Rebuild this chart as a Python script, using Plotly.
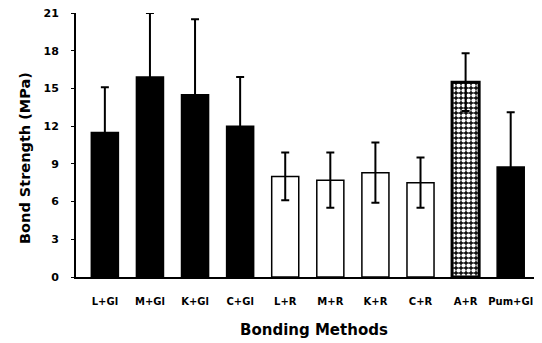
import plotly.graph_objects as go

categories = ["L+Gl", "M+Gl", "K+Gl", "C+Gl", "L+R", "M+R", "K+R", "C+R", "A+R", "Pum+Gl"]
means = [11.5, 15.9, 14.5, 12.0, 8.0, 7.7, 8.3, 7.5, 15.5, 8.75]
sds = [3.6, 5.1, 6.0, 3.9, 1.9, 2.2, 2.4, 2.0, 2.3, 4.35]
material = ["Gl", "Gl", "Gl", "Gl", "R", "R", "R", "R", "AR", "Gl"]
y_ticks = [0, 3, 6, 9, 12, 15, 18, 21]
x_title = "Bonding Methods"
y_title = "Bond Strength (MPa)"

fill = {"Gl": "black", "R": "white", "AR": "#111111"}
colors = [fill[m] for m in material]
shapes = ["." if m == "AR" else "" for m in material]
line_w = [3 if m == "AR" else 1.5 for m in material]

fig = go.Figure(go.Bar(
    x=categories, y=means, width=0.6,
    marker=dict(color=colors, line=dict(color="black", width=line_w),
                pattern=dict(shape=shapes, fgcolor="white", fgopacity=1,
                             size=5, solidity=0.55)),
    error_y=dict(type="data", array=sds, visible=True, color="black",
                 thickness=2, width=4),
))

# page body has an 8px default margin, so the figure is sized to fit the window
font_family = "DejaVu Sans"
fig.update_layout(
    width=534, height=335,
    margin=dict(l=68, r=2, t=5, b=66),
    paper_bgcolor="white", plot_bgcolor="white",
    showlegend=False,
    font=dict(family=font_family, color="black"),
    annotations=[
        dict(text="<b>%s</b>" % x_title, xref="paper", yref="paper",
             x=0.514, y=-0.2008, xanchor="center", yanchor="middle",
             showarrow=False, font=dict(size=15)),
        dict(text="<b>%s</b>" % y_title, xref="paper", yref="paper",
             x=-0.1099, y=0.451, xanchor="center", yanchor="middle",
             textangle=-90, showarrow=False, font=dict(size=14.5)),
    ],
)
fig.update_xaxes(
    automargin=False,
    range=[-0.64, 9.65], showline=True, linecolor="black", linewidth=2,
    ticks="", tickfont=dict(size=10, family=font_family, weight="bold"),
    ticklabelstandoff=14, showgrid=False,
)
fig.update_yaxes(
    automargin=False, ticklabeloverflow="allow",
    range=[0, 21], tickvals=y_ticks, showline=True, linecolor="black", linewidth=2,
    ticks="outside", ticklen=3, tickwidth=1, tickcolor="black",
    tickfont=dict(size=11, family=font_family, weight="bold"),
    ticklabelstandoff=10, showgrid=False, zeroline=False,
)
fig.write_html("out.html")
